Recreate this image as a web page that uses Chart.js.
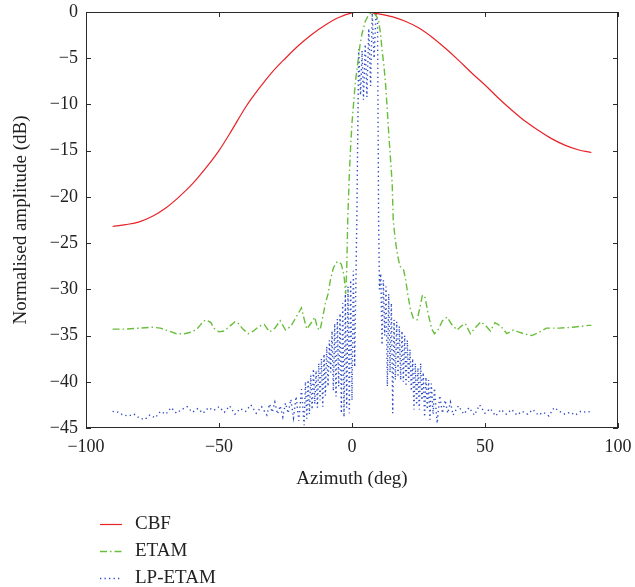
<!DOCTYPE html>
<html>
<head>
<meta charset="utf-8">
<script src="https://cdn.jsdelivr.net/npm/chart.js@4"></script>
<style>
  html, body { margin: 0; padding: 0; background: #fff; }
</style>
</head>
<body>
<canvas id="beam" width="635" height="587"></canvas>
<script>
// azimuth in degrees, amplitude in dB
const cbfAz = [-90, -85, -80, -75, -70, -65, -60, -55, -50, -45, -40, -35, -30, -25, -20, -15, -10, -5, 0,
  5, 10, 15, 20, 25, 30, 35, 40, 45, 50, 55, 60, 65, 70, 75, 80, 85, 90];
const cbfDb = [-23.2, -23.0, -22.7, -22.1, -21.2, -20.0, -18.6, -16.9, -15.0, -12.7, -10.3, -8.3, -6.5, -5.0, -3.6, -2.4, -1.4, -0.6, -0.1,
  0, -0.2, -0.5, -1.0, -1.7, -2.7, -3.9, -5.2, -6.6, -7.9, -9.3, -10.6, -11.8, -12.8, -13.7, -14.4, -14.9, -15.2];

const etamAz = [-90, -85, -80, -75, -72, -69, -66, -63, -60, -58, -56, -55, -53, -52, -50, -48, -46, -44, -43, -41,
  -39, -37, -35, -33, -31, -29, -27, -25, -23, -21, -19, -18, -17, -15, -14, -13, -12, -11, -10, -9,
  -8, -7, -6, -5, -4, -3, -2.4, -2, -1.6, -1, -0.5, 0, 0.7, 1.3, 2, 3, 3.8, 5, 6.3, 7.5,
  8.5, 9.3, 10, 10.7, 11.3, 12, 12.6, 13.2, 13.8, 14.5, 15.1, 15.5, 16.2, 17, 18, 19.4, 20.2, 21, 22, 23,
  24.5, 25.5, 26.5, 27.5, 28.5, 30, 31, 32.5, 34, 35.7, 37.5, 39.5, 41, 42.6, 44.5, 46.5, 48.5, 50.5, 52, 53.8,
  56, 58.2, 60.7, 62.5, 64.5, 67.6, 70, 73, 78, 83, 89, 90];
const etamDb = [-34.3, -34.3, -34.2, -34.1, -34.2, -34.5, -34.8, -34.8, -34.6, -34.2, -33.5, -33.3, -33.6, -34.2, -34.6, -34.5, -34.0, -33.5, -33.6, -34.3,
  -34.8, -34.5, -34.0, -33.8, -34.6, -34.2, -33.4, -34.4, -34.0, -33.0, -32.0, -33.2, -34.3, -33.5, -33.0, -34.2, -34.4, -33.0, -31.5, -30.5,
  -28.8, -27.7, -27.1, -27.0, -27.3, -28.5, -30.5, -28.0, -22.5, -17.5, -14.5, -12.0, -9.5, -7.5, -5.9, -3.6, -2.3, -1.0, -0.3, 0,
  -0.2, -0.5, -0.9, -2.3, -4.1, -5.8, -7.7, -10.3, -13.1, -16.0, -18.5, -22.5, -24.5, -26.1, -27.5, -27.9, -29.0, -30.6, -32.2, -33.1,
  -33.3, -32.0, -30.6, -30.9, -32.5, -34.3, -34.8, -34.3, -33.4, -33.0, -33.8, -34.4, -34.0, -33.7, -34.8, -34.1, -33.5, -34.0, -34.5, -33.6,
  -34.0, -34.8, -34.4, -34.6, -34.8, -35.0, -34.7, -34.2, -34.2, -34.1, -33.9, -33.9];

const lpAz = [-90, -88, -86, -84, -82, -80, -78, -76, -74, -72, -70, -68, -66, -64, -62, -60, -58, -56, -54, -52,
  -50, -48, -46, -44, -42, -40, -38, -36, -34, -32, -31, -30, -29, -28, -27, -26, -25, -24, -23, -22,
  -21, -20, -19, -18, -17.5, -17, -16.5, -16, -15.5, -15, -14.5, -14, -13.5, -13, -12.5, -12, -11.5, -11, -10.5, -10,
  -9.5, -9, -8.5, -8, -7.5, -7, -6.5, -6, -5.5, -5, -4.5, -4, -3.5, -3, -2.5, -2, -1.5, -1, -0.5, 0,
  0.5, 1, 1.8, 2.5, 3.2, 3.8, 4.3, 5, 5.6, 6.3, 7, 7.6, 8.3, 9, 9.6, 10, 10.3, 10.8, 11.3, 11.8,
  12.3, 12.8, 13.3, 13.8, 14.3, 14.8, 15.3, 15.8, 16.3, 16.8, 17.3, 17.8, 18.3, 18.8, 19.3, 19.8, 20.3, 20.8, 21.3, 21.8,
  22.3, 22.8, 23.3, 23.8, 24.3, 24.8, 25.3, 25.8, 26.3, 26.8, 27.3, 27.8, 28.3, 28.8, 29.3, 29.8, 30.5, 31, 32, 33,
  34, 35, 36, 37, 38, 40, 42, 44, 46, 48, 50, 52, 54, 56, 58, 60, 62, 64, 66, 68,
  70, 72, 74, 76, 78, 80, 82, 84, 86, 88, 90];
const lpDb = [-43.2, -43.3, -43.6, -43.7, -43.5, -43.9, -44.1, -43.6, -43.9, -43.2, -43.5, -42.8, -43.4, -43.0, -42.7, -43.3, -42.9, -43.4, -42.8, -43.1,
  -42.7, -43.3, -42.6, -43.5, -42.9, -43.2, -42.5, -43.4, -42.7, -43.6, -42.4, -43.3, -42.2, -43.5, -42.6, -43.8, -42.3, -43.4, -41.9, -43.9,
  -41.6, -44.2, -40.8, -44.7, -40.0, -44.0, -39.8, -43.5, -39.3, -43.0, -38.6, -42.4, -38.8, -42.8, -38.0, -42.0, -37.5, -42.7, -37.0, -41.5,
  -36.2, -40.5, -35.5, -39.0, -34.5, -41.0, -33.7, -41.6, -33.2, -40.5, -32.6, -43.4, -31.5, -43.8, -30.5, -42.8, -29.7, -43.4, -29.0, -42.0,
  -28.0, -38.4, -22.5, -4.0, -9.0, -4.2, -9.5, -3.5, -9.2, -1.8, -8.0, -0.1, -5.0, -0.3, -1.0, -22.5, -30.0, -28.3, -36.0, -29.0,
  -35.0, -29.7, -40.5, -30.5, -39.0, -31.5, -43.4, -33.3, -39.8, -33.5, -39.5, -34.0, -39.8, -34.5, -40.0, -35.0, -40.5, -35.5, -40.0, -36.5,
  -41.0, -37.5, -43.0, -38.0, -42.5, -38.5, -43.0, -38.0, -42.0, -39.0, -43.8, -39.5, -43.0, -39.8, -44.1, -40.2, -43.5, -40.7, -44.5, -41.5,
  -43.4, -42.0, -43.4, -42.2, -43.6, -42.6, -43.5, -42.8, -43.6, -42.5, -43.4, -42.9, -43.7, -43.0, -43.5, -43.0, -43.6, -43.2, -43.5, -43.0,
  -43.6, -43.3, -43.7, -42.8, -43.2, -43.5, -43.3, -43.6, -43.2, -43.3, -43.2];

const xTicks = [-100, -50, 0, 50, 100];
const yTicks = [0, -5, -10, -15, -20, -25, -30, -35, -40, -45];

const SERIF = "'Liberation Serif', 'DejaVu Serif', serif";
Chart.defaults.font.family = SERIF;
Chart.defaults.color = '#222';

function pts(xs, ys) {
  return xs.map((x, i) => ({x: x, y: ys[i]}));
}
function minusLabel(v) {
  return v < 0 ? '\u2212' + Math.abs(v) : String(v);
}
// stop the tick labels from pushing the plot box inwards
function fixedBox(size, key) {
  return function(scale) {
    scale[key] = size;
    scale.paddingLeft = 0;
    scale.paddingRight = 0;
    scale.paddingTop = 0;
    scale.paddingBottom = 0;
  };
}

// box round the plot with inward ticks, like matlab
const frameTicks = {
  id: 'frameTicks',
  afterDatasetsDraw(chart) {
    const {ctx, chartArea: {left, right, top, bottom}, scales: {x, y}} = chart;
    ctx.save();
    ctx.strokeStyle = '#2a2a2a';
    ctx.lineWidth = 1;
    ctx.setLineDash([]);
    ctx.strokeRect(left + 0.5, top + 0.5, right - left - 1, bottom - top - 1);
    ctx.beginPath();
    const len = 5;
    xTicks.forEach(v => {
      const px = Math.round(x.getPixelForValue(v)) + 0.5;
      ctx.moveTo(px, bottom); ctx.lineTo(px, bottom - len);
      ctx.moveTo(px, top); ctx.lineTo(px, top + len);
    });
    yTicks.forEach(v => {
      const py = Math.round(y.getPixelForValue(v)) + 0.5;
      ctx.moveTo(left, py); ctx.lineTo(left + len, py);
      ctx.moveTo(right, py); ctx.lineTo(right - len, py);
    });
    ctx.stroke();
    ctx.restore();
  }
};

// legend stacked under the axes
const stackLegend = {
  id: 'stackLegend',
  afterDraw(chart) {
    const ctx = chart.ctx;
    ctx.save();
    chart.data.datasets.forEach((ds, i) => {
      const yy = 524 + i * 27;
      ctx.strokeStyle = ds.borderColor;
      ctx.lineWidth = ds.borderWidth;
      ctx.setLineDash(ds.borderDash || []);
      ctx.beginPath();
      ctx.moveTo(100, yy + 0.5);
      ctx.lineTo(122, yy + 0.5);
      ctx.stroke();
      ctx.setLineDash([]);
      ctx.fillStyle = '#222';
      ctx.font = '19px ' + SERIF;
      ctx.textBaseline = 'middle';
      ctx.fillText(ds.label, 135, yy);
    });
    ctx.restore();
  }
};

new Chart(document.getElementById('beam'), {
  type: 'line',
  data: {
    datasets: [
      {
        label: 'CBF',
        data: pts(cbfAz, cbfDb),
        borderColor: 'rgb(232, 35, 40)',
        borderWidth: 1.2,
        cubicInterpolationMode: 'monotone'
      },
      {
        label: 'ETAM',
        data: pts(etamAz, etamDb),
        borderColor: 'rgb(105, 190, 60)',
        borderWidth: 1.4,
        borderDash: [7, 3, 1.5, 3]
      },
      {
        label: 'LP-ETAM',
        data: pts(lpAz, lpDb),
        borderColor: 'rgb(45, 75, 195)',
        borderWidth: 1.4,
        borderDash: [1.3, 3.2]
      }
    ]
  },
  options: {
    responsive: false,
    animation: false,
    parsing: false,
    elements: {point: {radius: 0}, line: {tension: 0}},
    layout: {padding: {left: 0, top: 12, right: 17, bottom: 97}},
    plugins: {legend: {display: false}, tooltip: {enabled: false}},
    scales: {
      x: {
        type: 'linear',
        min: -100, max: 100,
        afterFit: fixedBox(62, 'height'),
        afterBuildTicks(scale) { scale.ticks = xTicks.map(v => ({value: v})); },
        grid: {display: false, drawTicks: false},
        border: {display: false},
        ticks: {padding: 8, maxRotation: 0, font: {size: 18}, callback: minusLabel},
        title: {display: true, text: 'Azimuth (deg)', font: {size: 19}, padding: {top: 0, bottom: 0}}
      },
      y: {
        type: 'linear',
        min: -45, max: 0,
        afterFit: fixedBox(86, 'width'),
        afterBuildTicks(scale) { scale.ticks = yTicks.map(v => ({value: v})); },
        grid: {display: false, drawTicks: false},
        border: {display: false},
        ticks: {padding: 8, font: {size: 18}, callback: minusLabel},
        title: {display: true, text: 'Normalised amplitude (dB)', font: {size: 19}, padding: {top: 10, bottom: 0}}
      }
    }
  },
  plugins: [frameTicks, stackLegend]
});
</script>
</body>
</html>
